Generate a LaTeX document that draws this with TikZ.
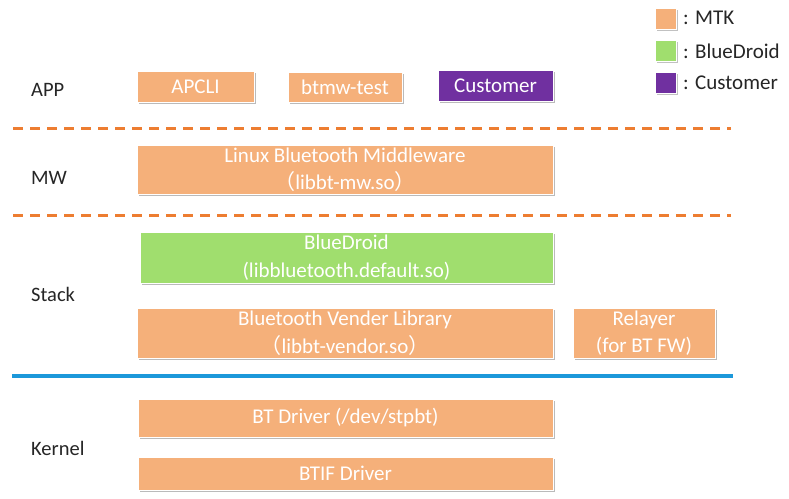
\documentclass[tikz,border=0pt]{standalone}
\usepackage{fontspec}
\setmainfont{Carlito}
\newfontfamily\cjkfont{Noto Sans CJK SC}
\usetikzlibrary{shadows}
\definecolor{mtk}{RGB}{245,176,122}
\definecolor{bdroid}{RGB}{160,222,110}
\definecolor{cust}{RGB}{112,48,160}
\definecolor{dashor}{RGB}{237,125,49}
\definecolor{sepblue}{RGB}{28,152,218}
\definecolor{labtxt}{RGB}{38,38,38}
\newcommand{\lpar}{{\cjkfont （}}
\newcommand{\rpar}{{\cjkfont ）}}
\tikzset{
  boxbase/.style={draw=white, line width=0.8pt, text=white, align=center,
    font=\fontsize{21}{27.5}\selectfont, inner sep=0pt,
    drop shadow={shadow xshift=2pt, shadow yshift=-2pt, opacity=0.45, fill=black!60}},
  mtkbox/.style={boxbase, fill=mtk},
  bdbox/.style={boxbase, fill=bdroid},
  custbox/.style={boxbase, fill=cust},
  layerlab/.style={anchor=west, text=labtxt, font=\fontsize{20.5}{24}\selectfont, inner sep=0pt},
  legsq/.style={draw=white, line width=1pt, minimum width=21, minimum height=21, inner sep=0pt,
    drop shadow={shadow xshift=1.5pt, shadow yshift=-1.5pt, opacity=0.4, fill=black!60}},
  legtxt/.style={anchor=west, text=labtxt, font=\fontsize{21}{24}\selectfont, inner sep=0pt},
  dashsep/.style={draw=dashor, line width=3pt, dash pattern=on 10pt off 7pt},
  bluesep/.style={draw=sepblue, line width=4pt}
}
\begin{document}
\begin{tikzpicture}[x=1pt,y=-1pt]
\path[use as bounding box, fill=white] (0,0) rectangle (789,498);
% legend
\node[legsq, fill=mtk] (lm) at (666,19) {};
\node[legtxt] (lmt) at (683,18) {: MTK};
\node[legsq, fill=bdroid] (lb) at (666,51) {};
\node[legtxt] (lbt) at (683,51) {: BlueDroid};
\node[legsq, fill=cust] (lc) at (666,83) {};
\node[legtxt] (lct) at (683,83) {: Customer};
% layer labels
\node[layerlab] (app) at (31,90) {APP};
\node[layerlab] (mw) at (31,178) {MW};
\node[layerlab] (stack) at (31,294) {Stack};
\node[layerlab] (kernel) at (31,448) {Kernel};
% separators
\coordinate (d1a) at (13,128); \coordinate (d1b) at (731,128);
\coordinate (d2a) at (13,215); \coordinate (d2b) at (731,215);
\coordinate (b1a) at (12,376); \coordinate (b1b) at (733,376);
\draw[dashsep] (d1a) -- (d1b);
\draw[dashsep] (d2a) -- (d2b);
\draw[bluesep] (b1a) -- (b1b);
% boxes
\node[mtkbox, minimum width=117, minimum height=31] (apcli) at (195.5,86.5) {APCLI};
\node[mtkbox, minimum width=114, minimum height=30] (btmw) at (345,87) {btmw-test};
\node[custbox, minimum width=115, minimum height=31] (customer) at (495.5,85.5) {Customer};
\node[mtkbox, minimum width=416, minimum height=49] (mwbox) at (345,169.5) {Linux Bluetooth Middleware\\\lpar libbt-mw.so\rpar};
\node[bdbox, minimum width=413, minimum height=51] (bluedroid) at (346.5,257.5) {BlueDroid\\(libbluetooth.default.so)};
\node[mtkbox, minimum width=416, minimum height=50] (vendor) at (345,333) {Bluetooth Vender Library\\\lpar libbt-vendor.so\rpar};
\node[mtkbox, minimum width=142, minimum height=50] (relayer) at (644,333) {Relayer\\(for BT FW)};
\node[mtkbox, minimum width=415, minimum height=38] (btdrv) at (345.5,418) {BT Driver (/dev/stpbt)};
\node[mtkbox, minimum width=415, minimum height=33] (btif) at (345.5,473.5) {BTIF Driver};
\end{tikzpicture}
\end{document}
